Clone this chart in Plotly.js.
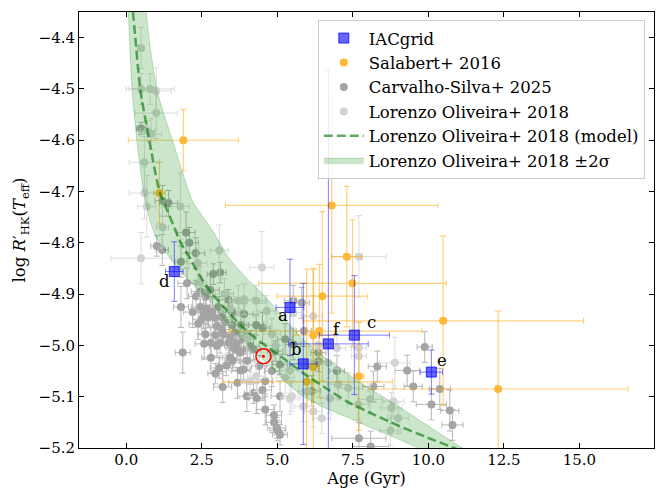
<!DOCTYPE html>
<html>
<head>
<meta charset="utf-8">
<script src="https://cdn.plot.ly/plotly-3.0.1.min.js"></script>
<style>
  html, body { margin: 0; padding: 0; background: #fff; }
  #chart { width: 657px; height: 488px; }
</style>
</head>
<body>
<div id="chart"></div>
<script>
// IACgrid targets
const iacNames = ['a', 'b', 'c', 'd', 'e', 'f'];
const iacAge = [5.42, 5.86, 7.55, 1.59, 10.10, 6.69];
const iacLogR = [-4.926, -5.036, -4.980, -4.856, -5.052, -4.997];
const iacAgeErr = [0.46, 0.45, 1.16, 0.29, 0.37, 1.32];
const iacLogRErr = [0.094, 0.157, 0.116, 0.058, 0.043, 0.534];

// Salabert+ 2016
const salAge = [1.89, 1.10, 6.80, 7.30, 7.49, 6.49, 10.49, 6.39, 6.19, 6.19, 7.70, 5.97, 12.31];
const salLogR = [-4.600, -4.703, -4.727, -4.827, -4.879, -4.904, -4.952, -4.972, -4.980, -5.042, -5.060, -5.071, -5.085];
const salAgeErrPlus = [1.82, 0.19, 3.52, 0.51, 3.10, 1.50, 4.65, 3.40, 0.70, 0.20, 0.17, 2.85, 4.30];
const salAgeErrMinus = [1.82, 0.19, 3.52, 0.51, 3.10, 1.50, 4.65, 3.00, 0.70, 0.20, 0.17, 2.75, 4.30];
const salLogRErr = [0.06, 0.06, 0.21, 0.137, 0.124, 0.165, 0.165, 0.13, 0.13, 0.19, 0.105, 0.22, 0.152];

// Carvalho-Silva+ 2025
const csAge = [0.49, 1.20, 1.40, 1.98, 2.09, 2.30, 1.01, 1.19, 1.81, 2.88, 3.11, 2.01, 1.81, 2.31, 2.78, 3.38,
  1.87, 2.58, 2.80, 3.08, 3.19, 2.80, 3.00, 3.44, 3.68, 3.79, 3.99, 4.21, 4.32, 4.60, 4.51, 4.60,
  4.89, 4.89, 5.01, 5.09, 5.09, 4.82, 4.51, 4.10, 5.88, 5.53, 5.81, 5.26, 2.56, 2.72, 2.94, 3.16,
  2.50, 3.90, 3.00, 3.16, 3.22, 3.44, 3.38, 3.64, 3.66, 3.77, 3.99, 2.62, 3.31, 3.52, 3.88, 4.21,
  4.93, 3.88, 5.09, 6.36, 6.36, 6.97, 6.14, 4.98, 8.31, 9.30, 9.88, 8.18, 9.50, 10.38, 10.10, 10.71,
  10.80, 7.70, 8.09, 2.45, 2.65, 2.38, 2.85, 3.05, 3.28, 3.50, 3.60, 3.75, 2.95, 3.10, 3.55, 2.62,
  2.45, 2.20, 3.50, 3.80, 4.30, 4.00, 4.40, 2.95, 5.53];
const csLogR = [-4.577, -4.718, -4.723, -4.780, -4.800, -4.820, -4.806, -4.814, -4.837, -4.861, -4.858, -4.879, -4.925, -4.904, -4.892, -4.911,
  -5.014, -4.997, -5.024, -5.044, -5.081, -4.995, -5.001, -5.024, -5.073, -5.049, -5.099, -5.093, -5.103, -5.070, -5.087, -5.125,
  -5.136, -5.150, -5.166, -5.174, -5.099, -5.050, -4.966, -5.001, -4.972, -4.913, -4.917, -4.988, -4.936, -4.945, -4.946, -4.945,
  -4.949, -4.939, -4.962, -4.969, -4.978, -4.985, -4.995, -4.995, -5.008, -5.014, -4.982, -4.978, -5.039, -5.030, -5.011, -5.008,
  -5.011, -5.047, -5.037, -5.014, -5.031, -5.050, -5.089, -5.161, -5.041, -5.049, -5.003, -5.080, -5.080, -5.085, -5.115, -5.127,
  -5.155, -5.181, -5.197, -4.925, -4.928, -4.958, -4.935, -4.925, -4.955, -4.960, -4.975, -4.990, -4.980, -4.995, -5.005, -4.905,
  -4.895, -4.935, -4.935, -4.960, -4.960, -5.030, -5.040, -5.055, -4.998];
const csAgeErr = [0.15, 0.25, 0.30, 0.30, 0.30, 0.30, 0.20, 0.20, 0.20, 0.20, 0.20, 0.30, 0.25, 0.25, 0.30, 0.30,
  0.25, 0.30, 0.30, 0.30, 0.30, 0.25, 0.25, 0.25, 0.30, 0.30, 0.30, 0.30, 0.25, 0.25, 0.30, 0.30,
  0.25, 0.25, 0.25, 0.25, 0.30, 0.25, 0.25, 0.30, 0.25, 0.30, 0.25, 0.25, 0.30, 0.25, 0.25, 0.30,
  0.30, 0.30, 0.25, 0.25, 0.25, 0.25, 0.25, 0.25, 0.25, 0.25, 0.25, 0.25, 0.25, 0.25, 0.25, 0.25,
  0.25, 0.25, 0.25, 0.25, 0.25, 0.25, 0.30, 0.30, 0.30, 0.40, 0.25, 0.35, 0.30, 0.35, 0.50, 0.30,
  0.35, 0.90, 0.60, 0.30, 0.25, 0.30, 0.25, 0.30, 0.25, 0.30, 0.30, 0.25, 0.25, 0.25, 0.25, 0.25,
  0.30, 0.30, 0.30, 0.25, 0.25, 0.25, 0.25, 0.25, 0.25];
const csLogRErr = [0.012, 0.03, 0.025, 0.04, 0.03, 0.03, 0.02, 0.03, 0.03, 0.02, 0.02, 0.03, 0.04, 0.03, 0.03, 0.02,
  0.04, 0.03, 0.03, 0.02, 0.03, 0.03, 0.02, 0.02, 0.03, 0.02, 0.03, 0.02, 0.03, 0.03, 0.02, 0.03,
  0.02, 0.02, 0.02, 0.02, 0.03, 0.03, 0.03, 0.03, 0.03, 0.03, 0.03, 0.03, 0.03, 0.02, 0.02, 0.02,
  0.03, 0.02, 0.02, 0.02, 0.02, 0.02, 0.02, 0.02, 0.02, 0.02, 0.02, 0.02, 0.02, 0.02, 0.02, 0.02,
  0.02, 0.02, 0.02, 0.02, 0.02, 0.03, 0.03, 0.02, 0.03, 0.03, 0.03, 0.03, 0.03, 0.04, 0.03, 0.04,
  0.03, 0.03, 0.03, 0.03, 0.03, 0.03, 0.03, 0.02, 0.02, 0.02, 0.02, 0.02, 0.02, 0.02, 0.02, 0.02,
  0.03, 0.03, 0.02, 0.02, 0.02, 0.02, 0.02, 0.02, 0.03];

// Lorenzo Oliveira+ 2018 sample
const loAge = [0.49, 0.49, 0.79, 0.99, 0.99, 0.70, 0.82, 0.60, 0.60, 0.68, 1.79, 1.20, 0.49, 2.37, 3.08, 2.45,
  3.71, 3.90, 4.30, 4.49, 5.26, 5.42, 5.86, 6.19, 6.47, 6.19, 3.44, 4.10, 4.30, 4.82, 4.65, 3.99,
  5.53, 6.97, 6.69, 5.42, 5.48, 6.74, 7.70, 7.70, 7.70, 8.89, 8.84, 9.00, 8.07, 8.78, 7.35, 7.68,
  7.02, 8.75, 3.25, 4.95, 6.35, 6.00];
const loLogR = [-4.420, -4.500, -4.500, -4.504, -4.547, -4.582, -4.588, -4.643, -4.703, -4.729, -4.729, -4.770, -4.830, -4.840, -4.815, -4.877,
  -4.913, -4.910, -4.913, -4.848, -5.063, -5.104, -5.119, -5.129, -5.142, -4.943, -4.928, -5.070, -5.060, -4.978, -4.933, -4.985,
  -4.936, -5.005, -5.034, -5.049, -5.099, -5.103, -4.827, -5.005, -5.021, -5.034, -5.109, -5.142, -5.105, -5.122, -5.083, -5.115,
  -5.076, -5.166, -4.900, -5.000, -5.000, -5.090];
const loAgeErr = [0.10, 0.40, 0.80, 0.50, 0.70, 0.25, 0.35, 0.50, 0.50, 0.30, 0.30, 0.20, 1.00, 0.30, 0.30, 0.20,
  0.30, 0.30, 0.30, 0.40, 0.30, 0.30, 0.30, 0.30, 0.30, 0.30, 0.30, 0.30, 0.30, 0.30, 0.30, 0.30,
  0.30, 0.30, 0.30, 0.30, 0.30, 0.30, 0.90, 0.25, 0.25, 0.50, 0.35, 0.35, 0.40, 0.35, 0.35, 0.35,
  0.35, 0.35, 0.30, 0.30, 0.30, 0.30];
const loLogRErr = [0.04, 0.03, 0.03, 0.045, 0.05, 0.02, 0.03, 0.05, 0.05, 0.06, 0.065, 0.04, 0.05, 0.03, 0.05, 0.03,
  0.03, 0.03, 0.03, 0.07, 0.03, 0.03, 0.03, 0.03, 0.03, 0.04, 0.03, 0.03, 0.03, 0.03, 0.03, 0.03,
  0.03, 0.04, 0.03, 0.03, 0.03, 0.03, 0.08, 0.05, 0.05, 0.05, 0.03, 0.03, 0.03, 0.03, 0.03, 0.03,
  0.03, 0.03, 0.03, 0.03, 0.03, 0.03];

// Lorenzo Oliveira+ 2018 age-activity relation and its ±2σ envelope
const modelAge = [0.22, 0.30, 0.46, 0.76, 1.10, 1.45, 1.80, 2.03, 2.40, 2.85, 3.33, 3.88, 4.50, 5.20, 5.86, 6.60, 7.30, 8.10, 8.95, 9.90, 10.85, 11.30];
const modelLogR = [-4.35, -4.40, -4.50, -4.60, -4.70, -4.75, -4.80, -4.822, -4.861, -4.900, -4.932, -4.966, -4.996, -5.025, -5.054, -5.083, -5.109, -5.132, -5.155, -5.178, -5.200, -5.21];
const upperAge = [0.62, 0.66, 0.82, 1.01, 1.25, 1.53, 1.85, 2.20, 2.55, 2.90, 3.40, 4.00, 4.60, 5.20, 5.80, 6.50, 7.10, 7.80, 8.50, 9.30, 10.20, 11.20, 11.50];
const upperLogR = [-4.30, -4.35, -4.43, -4.50, -4.55, -4.60, -4.66, -4.72, -4.75, -4.78, -4.83, -4.87, -4.905, -4.945, -4.985, -5.02, -5.045, -5.075, -5.10, -5.13, -5.165, -5.203, -5.215];
const lowerAge = [0.05, 0.07, 0.19, 0.35, 0.57, 0.80, 1.00, 1.51, 2.10, 2.78, 3.30, 3.88, 4.65, 5.20, 5.75, 6.50, 7.40, 8.20, 9.06, 9.61, 10.00];
const lowerLogR = [-4.30, -4.35, -4.50, -4.60, -4.70, -4.76, -4.79, -4.835, -4.875, -4.913, -4.955, -4.992, -5.035, -5.067, -5.095, -5.12, -5.142, -5.163, -5.184, -5.199, -5.21];

// The Sun
const sunAge = [4.54];
const sunLogR = [-5.021];

const serif = 'DejaVu Serif, Liberation Serif, serif';

const bandX = upperAge.concat(lowerAge.slice().reverse());
const bandY = upperLogR.concat(lowerLogR.slice().reverse());

const traces = [
  {
    name: 'Carvalho-Silva+ 2025', legendrank: 3, legendgroup: 'g3',
    x: csAge, y: csLogR, mode: 'markers', type: 'scatter',
    marker: { color: '#a4a4a4', size: 8 },
    error_x: { type: 'data', array: csAgeErr, color: '#b8b8b8', thickness: 1, width: 3 },
    error_y: { type: 'data', array: csLogRErr, color: '#b8b8b8', thickness: 1, width: 3 }
  },
  {
    name: 'Lorenzo Oliveira+ 2018', legendrank: 4, legendgroup: 'g4',
    x: loAge, y: loLogR, mode: 'markers', type: 'scatter',
    marker: { color: '#d3d3d3', size: 8 },
    error_x: { type: 'data', array: loAgeErr, color: '#dcdcdc', thickness: 1, width: 3 },
    error_y: { type: 'data', array: loLogRErr, color: '#dcdcdc', thickness: 1, width: 3 }
  },
  {
    name: 'Salabert+ 2016', legendrank: 2, legendgroup: 'g2',
    x: salAge, y: salLogR, mode: 'markers', type: 'scatter',
    marker: { color: '#ffb833', size: 8 },
    error_x: { type: 'data', symmetric: false, array: salAgeErrPlus, arrayminus: salAgeErrMinus, color: 'rgba(255,165,0,0.5)', thickness: 1.2, width: 3 },
    error_y: { type: 'data', array: salLogRErr, color: 'rgba(255,165,0,0.5)', thickness: 1.2, width: 3 }
  },
  {
    name: 'Lorenzo Oliveira+ 2018 \u00b12\u03c3', legendrank: 6, legendgroup: 'g6',
    x: bandX, y: bandY, mode: 'lines', type: 'scatter', fill: 'toself',
    fillcolor: 'rgba(0,128,0,0.2)',
    line: { color: 'rgba(0,128,0,0.22)', width: 1, shape: 'spline', smoothing: 0.6 }
  },
  {
    name: 'Lorenzo Oliveira+ 2018 (model)', legendrank: 5, legendgroup: 'g5',
    x: modelAge, y: modelLogR, mode: 'lines', type: 'scatter',
    line: { color: 'rgba(0,120,0,0.62)', width: 2.5, dash: '9px,4px', shape: 'spline', smoothing: 0.6 }
  },
  {
    name: 'IACgrid', legendrank: 1, legendgroup: 'g1',
    x: iacAge, y: iacLogR, mode: 'markers', type: 'scatter',
    marker: { symbol: 'square', color: 'rgba(0,0,255,0.6)', size: 10, line: { color: 'rgba(0,0,255,0.75)', width: 1 } },
    error_x: { type: 'data', array: iacAgeErr, color: 'rgba(0,0,255,0.5)', thickness: 1, width: 3 },
    error_y: { type: 'data', array: iacLogRErr, color: 'rgba(0,0,255,0.5)', thickness: 1, width: 3 }
  },
  {
    name: 'Sun', showlegend: false,
    x: sunAge, y: sunLogR, mode: 'markers', type: 'scatter',
    marker: { symbol: 'circle-open', color: 'red', size: 15, line: { color: 'red', width: 1.6 } }
  },
  {
    name: 'Sun centre', showlegend: false,
    x: sunAge, y: sunLogR, mode: 'markers', type: 'scatter',
    marker: { symbol: 'circle', color: 'red', size: 3 }
  }
];

// letter tags next to the IACgrid squares
const tagShift = { a: [-7, -8], b: [-7, 14], c: [17, 13], d: [-10, -10], e: [11, 12], f: [9, 14] };
const annotations = iacNames.map((n, i) => ({
  x: iacAge[i], y: iacLogR[i], xref: 'x', yref: 'y', text: n, showarrow: false,
  xshift: tagShift[n][0], yshift: tagShift[n][1],
  font: { family: serif, size: 16.5, color: '#000' }
}));

const axisCommon = {
  showline: true, linecolor: '#000', linewidth: 1, mirror: 'ticks',
  ticks: 'inside', ticklen: 5, tickwidth: 1, tickcolor: '#000',
  showgrid: false, zeroline: false,
  tickfont: { family: serif, size: 15, color: '#000' }
};

const layout = {
  width: 657, height: 488,
  margin: { l: 79, r: 3, t: 12, b: 40 },
  paper_bgcolor: '#fff', plot_bgcolor: '#fff',
  font: { family: serif, color: '#000' },
  xaxis: Object.assign({}, axisCommon, {
    range: [-1.565, 17.47], tick0: 0, dtick: 2.5, tickformat: '.1f', ticklabelstandoff: -2,
    title: { text: 'Age (Gyr)', font: { family: serif, size: 16, color: '#000' }, standoff: 8 }
  }),
  yaxis: Object.assign({}, axisCommon, {
    range: [-5.2, -4.35], tick0: -5.2, dtick: 0.1, tickformat: '.1f',
    title: { text: 'log <i>R</i>\u2032<sub>HK</sub>(<i>T</i><sub>eff</sub>)', font: { family: serif, size: 16.5, color: '#000' }, standoff: 8 }
  }),
  legend: {
    x: 0.984, xanchor: 'right', y: 0.982, yanchor: 'top',
    bgcolor: 'rgba(255,255,255,0.8)', bordercolor: '#cccccc', borderwidth: 1,
    font: { family: serif, size: 16.5, color: '#000' },
    tracegroupgap: 0, itemwidth: 40
  },
  annotations: annotations,
  showlegend: true
};

Plotly.newPlot('chart', traces, layout, { staticPlot: true, displayModeBar: false });
</script>
</body>
</html>
